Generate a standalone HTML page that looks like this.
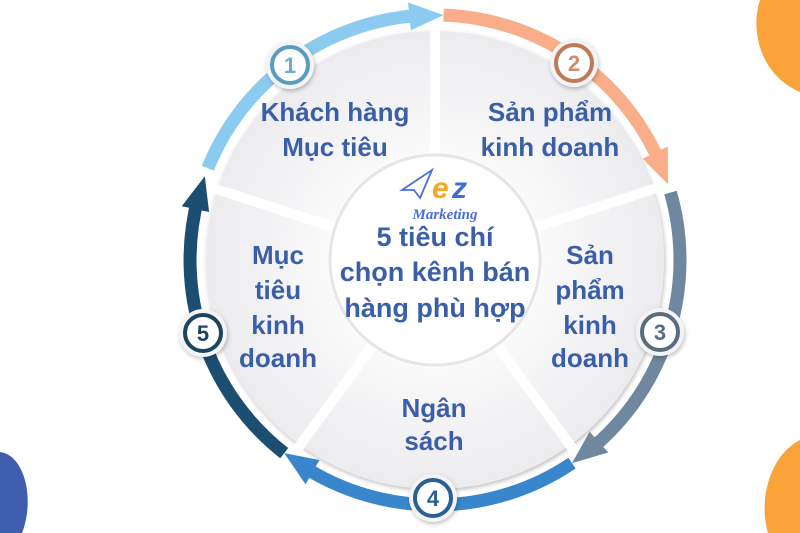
<!DOCTYPE html>
<html><head><meta charset="utf-8"><style>
html,body{margin:0;padding:0;background:#fff;}
svg{display:block;}
text{font-family:"Liberation Sans",sans-serif;font-weight:bold;}
</style></head><body>
<svg width="800" height="533" viewBox="0 0 800 533" xmlns="http://www.w3.org/2000/svg">
<defs>
<radialGradient id="sg" cx="435" cy="260" r="230" gradientUnits="userSpaceOnUse">
<stop offset="0.45" stop-color="#fafafb"/><stop offset="1" stop-color="#ececef"/>
</radialGradient>
<filter id="sh" x="-20%" y="-20%" width="140%" height="140%"><feDropShadow dx="1" dy="2" stdDeviation="2" flood-color="#000" flood-opacity="0.25"/></filter>
</defs>
<path d="M800 0 L760 0 C750 30 760 75 800 92 Z" fill="#f9a33a"/>
<path d="M800 440 C770 455 758 500 768 533 L800 533 Z" fill="#f9a33a"/>
<path d="M0 452 C25 455 35 500 22 533 L0 533 Z" fill="#3f5fae"/>

<circle cx="435" cy="260" r="229" fill="url(#sg)" filter="url(#sh)"/>
<g stroke="#fff" stroke-width="10">
<line x1="435" y1="260" x2="435" y2="22"/>
<line x1="435" y1="260" x2="660" y2="187"/>
<line x1="435" y1="260" x2="575" y2="452"/>
<line x1="435" y1="260" x2="295" y2="452"/>
<line x1="435" y1="260" x2="210" y2="187"/>
</g>
<circle cx="435" cy="260" r="105" fill="#fff" stroke="#e6e6ea" stroke-width="3"/>

<g fill="none" stroke-width="13">
<path d="M207.8 168.2 A245 245 0 0 1 422.2 15.3" stroke="#8ccbf0"/>
<path d="M443.6 15.1 A245 245 0 0 1 660.5 164.3" stroke="#f9ad88"/>
<path d="M670.5 192.5 A245 245 0 0 1 589.2 450.4" stroke="#6f879f"/>
<path d="M572.0 463.1 A245 245 0 0 1 301.6 465.5" stroke="#3a86cc"/>
<path d="M284.2 453.1 A245 245 0 0 1 198.4 196.6" stroke="#1b4e70"/>
</g>
<polygon points="410.9,30.3 407.9,2.4 443.6,15.1" fill="#8ccbf0"/>
<polygon points="642.6,158.7 667.8,146.5 668.0,184.3" fill="#f9ad88"/>
<polygon points="589.6,431.7 608.3,452.5 572.0,463.1" fill="#6f879f"/>
<polygon points="319.5,460.0 305.5,484.3 284.2,453.1" fill="#3a86cc"/>
<polygon points="209.1,212.0 181.7,206.2 204.8,176.2" fill="#1b4e70"/>

<g filter="url(#sh)">
<circle cx="290" cy="65" r="24" fill="#f4f4f6"/>
<circle cx="574" cy="63" r="24" fill="#f4f4f6"/>
<circle cx="660" cy="332" r="24" fill="#f4f4f6"/>
<circle cx="433" cy="498" r="24" fill="#f4f4f6"/>
<circle cx="203" cy="333" r="24" fill="#f4f4f6"/>
</g>
<g fill="#fff" stroke-width="4">
<circle cx="290" cy="65" r="18" stroke="#5a9cc0"/>
<circle cx="574" cy="63" r="18" stroke="#c07a5a"/>
<circle cx="660" cy="332" r="18" stroke="#5a6d80"/>
<circle cx="433" cy="498" r="18" stroke="#2a5f94"/>
<circle cx="203" cy="333" r="18" stroke="#1b4460"/>
</g>
<g font-size="22" text-anchor="middle">
<text x="290" y="73" fill="#6aaed6">1</text>
<text x="574" y="71" fill="#d08a6a">2</text>
<text x="660" y="340" fill="#5a6d80">3</text>
<text x="433" y="506" fill="#2a5f94">4</text>
<text x="203" y="341" fill="#1b4460">5</text>
</g>

<g font-size="26" fill="#3b5ea9" text-anchor="middle">
<text x="335" y="121">Khách hàng</text>
<text x="335" y="156">Mục tiêu</text>
<text x="550" y="121">Sản phẩm</text>
<text x="550" y="156">kinh doanh</text>
<text x="590" y="264">Sản</text>
<text x="590" y="299">phẩm</text>
<text x="590" y="334">kinh</text>
<text x="590" y="367">doanh</text>
<text x="278" y="264">Mục</text>
<text x="278" y="299">tiêu</text>
<text x="278" y="334">kinh</text>
<text x="278" y="367">doanh</text>
<text x="434" y="417">Ngân</text>
<text x="434" y="450">sách</text>
</g>
<g font-size="27" fill="#3b5ea9" text-anchor="middle">
<text x="435" y="246">5 tiêu chí</text>
<text x="435" y="281">chọn kênh bán</text>
<text x="435" y="317">hàng phù hợp</text>
</g>

<polygon points="402,190 432,170 420,198 414,190" fill="none" stroke="#4a6ee0" stroke-width="1.8"/>
<text x="432" y="198" font-size="30" font-style="italic" fill="#f5a623">e</text>
<text x="452" y="198" font-size="30" font-style="italic" fill="#3a6fd8">z</text>
<text x="445" y="219" font-size="15" font-style="italic" font-weight="normal" fill="#4a6ee0" text-anchor="middle" style="font-family:'Liberation Serif',serif">Marketing</text>
</svg>
</body></html>
